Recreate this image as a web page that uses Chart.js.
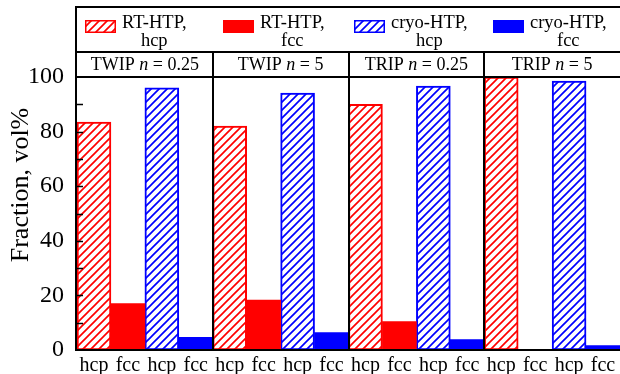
<!DOCTYPE html>
<html>
<head>
<meta charset="utf-8">
<script src="https://cdn.jsdelivr.net/npm/chart.js@4/dist/chart.umd.min.js"></script>
<style>
  html, body { margin: 0; padding: 0; background: #fff; }
  #wrap { width: 620px; height: 374px; }
</style>
</head>
<body>
<div id="wrap"><canvas id="chart" width="620" height="374"></canvas></div>
<script>
// values, vol%
const alloys = ['TWIP', 'TWIP', 'TRIP', 'TRIP'];
const nValues = ['0.25', '5', '0.25', '5'];
const phases = ['hcp', 'fcc', 'hcp', 'fcc'];
const rtHcp = [83.5, 82, 90, 100];
const rtFcc = [17, 18.3, 10.4, 0];
const cryoHcp = [96, 94.1, 96.7, 98.5];
const cryoFcc = [4.6, 6.4, 3.8, 1.6];
const seriesNames = [['RT-HTP,', 'hcp'], ['RT-HTP,', 'fcc'], ['cryo-HTP,', 'hcp'], ['cryo-HTP,', 'fcc']];
const yTicks = [0, 20, 40, 60, 80, 100];

const RED = '#FF0000', BLUE = '#0000FF';
const SERIF = "'Liberation Serif', 'Times New Roman', serif";

const canvas = document.getElementById('chart');
const mainCtx = canvas.getContext('2d');

function hatch(color) {
  const c = document.createElement('canvas');
  c.width = 8; c.height = 8;
  const g = c.getContext('2d');
  g.fillStyle = '#fff';
  g.fillRect(0, 0, 8, 8);
  g.strokeStyle = color;
  g.lineWidth = 1.7;
  g.beginPath();
  g.moveTo(0, 8); g.lineTo(8, 0);
  g.moveTo(-2, 2); g.lineTo(2, -2);
  g.moveTo(6, 10); g.lineTo(10, 6);
  g.stroke();
  return mainCtx.createPattern(c, 'repeat');
}

const labels = alloys.flatMap(() => phases);
// each series sits on its own slot inside every group of four
const spread = (vals, slot) => labels.map((_, i) => (i % 4 === slot ? vals[Math.floor(i / 4)] : null));

const styles = [
  { fill: hatch(RED), border: RED, bw: 2 },
  { fill: RED, border: RED, bw: 0 },
  { fill: hatch(BLUE), border: BLUE, bw: 2 },
  { fill: BLUE, border: BLUE, bw: 0 },
];
const seriesData = [rtHcp, rtFcc, cryoHcp, cryoFcc];

const datasets = seriesData.map((vals, k) => ({
  label: seriesNames[k].join(' '),
  data: spread(vals, k),
  backgroundColor: styles[k].fill,
  borderColor: styles[k].border,
  borderWidth: styles[k].bw,
  borderSkipped: false,
  barPercentage: 1,
  categoryPercentage: 1,
  grouped: false,
}));

const framePlugin = {
  id: 'frame',
  afterDraw(chart) {
    const ctx = chart.ctx;
    const { left, right, top, bottom } = chart.chartArea;
    const y = chart.scales.y;
    const groupW = (right - left) / 4;
    const rowTop = 7, rowMid = 52;

    ctx.save();
    ctx.strokeStyle = '#000';
    ctx.lineWidth = 2;
    ctx.beginPath();
    // outer frame and row separators
    ctx.moveTo(left - 1, rowTop); ctx.lineTo(620, rowTop);
    ctx.moveTo(left - 1, rowMid); ctx.lineTo(620, rowMid);
    ctx.moveTo(left - 1, top); ctx.lineTo(620, top);
    ctx.moveTo(left - 1, rowTop - 1); ctx.lineTo(left - 1, bottom + 1);
    ctx.moveTo(left - 1, bottom); ctx.lineTo(620, bottom);
    for (let g = 1; g < 4; g++) {
      const gx = Math.round(left + g * groupW);
      ctx.moveTo(gx, rowMid); ctx.lineTo(gx, bottom);
    }
    ctx.stroke();

    // inward y ticks every 10
    ctx.lineWidth = 1.5;
    ctx.beginPath();
    for (let v = 10; v < 100; v += 10) {
      const py = Math.round(y.getPixelForValue(v)) + 0.5;
      ctx.moveTo(left, py); ctx.lineTo(left + 6, py);
    }
    ctx.stroke();

    // group captions with italic n
    ctx.fillStyle = '#000';
    ctx.textBaseline = 'alphabetic';
    for (let g = 0; g < 4; g++) {
      const parts = [
        [alloys[g] + ' ', '18px ' + SERIF],
        ['n', 'italic 18px ' + SERIF],
        [' = ' + nValues[g], '18px ' + SERIF],
      ];
      let w = 0;
      parts.forEach(([t, f]) => { ctx.font = f; w += ctx.measureText(t).width; });
      let cx = left + (g + 0.5) * groupW - w / 2;
      ctx.textAlign = 'left';
      parts.forEach(([t, f]) => { ctx.font = f; ctx.fillText(t, cx, 70); cx += ctx.measureText(t).width; });
    }

    // legend row
    const boxOffsets = [8, 10, 5, 8];
    ctx.font = '18.5px ' + SERIF;
    for (let k = 0; k < 4; k++) {
      const bx = left + k * 136 + boxOffsets[k];
      ctx.fillStyle = styles[k].fill;
      ctx.fillRect(bx, 20, 31, 13);
      ctx.strokeStyle = styles[k].border;
      ctx.lineWidth = 1.5;
      ctx.strokeRect(bx + 0.75, 20.75, 29.5, 11.5);
      ctx.fillStyle = '#000';
      const tx = bx + 37;
      const w1 = ctx.measureText(seriesNames[k][0]).width;
      ctx.textAlign = 'left';
      ctx.fillText(seriesNames[k][0], tx, 28);
      ctx.textAlign = 'center';
      ctx.fillText(seriesNames[k][1], tx + w1 / 2, 46);
    }
    ctx.restore();
  },
};

new Chart(canvas, {
  type: 'bar',
  data: { labels, datasets },
  options: {
    responsive: false,
    animation: false,
    layout: { padding: { top: 77, right: 0, bottom: 0, left: 0 } },
    plugins: { legend: { display: false }, tooltip: { enabled: false } },
    scales: {
      x: {
        grid: { display: false },
        border: { display: false },
        afterFit(scale) { scale.height = 24; },
        ticks: {
          color: '#000', padding: -4, autoSkip: false, maxRotation: 0,
          font: { family: SERIF, size: 20 },
        },
      },
      y: {
        min: 0, max: 100,
        afterFit(scale) { scale.width = 77; },
        afterBuildTicks(scale) { scale.ticks = yTicks.map(v => ({ value: v })); },
        grid: { display: false },
        border: { display: false },
        ticks: { color: '#000', padding: 5, font: { family: SERIF, size: 24 } },
      },
    },
  },
  plugins: [framePlugin, {
    id: 'ytitle',
    afterDraw(chart) {
      const ctx = chart.ctx;
      ctx.save();
      ctx.translate(21, 185);
      ctx.rotate(-Math.PI / 2);
      ctx.font = '26px ' + SERIF;
      ctx.fillStyle = '#000';
      ctx.textAlign = 'center';
      ctx.textBaseline = 'middle';
      ctx.fillText('Fraction, vol%', 0, 0);
      ctx.restore();
    },
  }],
});
</script>
</body>
</html>
